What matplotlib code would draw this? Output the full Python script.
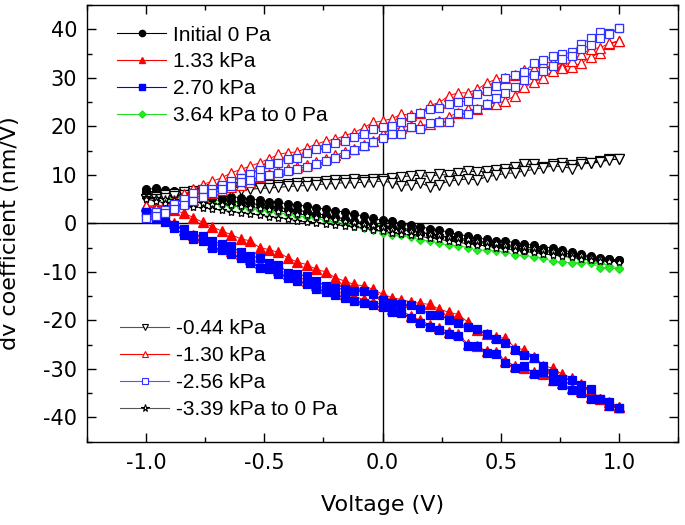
import matplotlib
matplotlib.use("Agg")
import matplotlib.pyplot as plt
from matplotlib.ticker import MultipleLocator, FormatStrFormatter
from matplotlib.lines import Line2D

# Voltage sweep grid (V)
voltage = [-1.00, -0.96, -0.92, -0.88, -0.84, -0.80, -0.76, -0.72, -0.68, -0.64,
           -0.60, -0.56, -0.52, -0.48, -0.44, -0.40, -0.36, -0.32, -0.28, -0.24,
           -0.20, -0.16, -0.12, -0.08, -0.04, 0.00, 0.04, 0.08, 0.12, 0.16,
           0.20, 0.24, 0.28, 0.32, 0.36, 0.40, 0.44, 0.48, 0.52, 0.56,
           0.60, 0.64, 0.68, 0.72, 0.76, 0.80, 0.84, 0.88, 0.92, 0.96, 1.00]

# Initial 0 Pa (two sweep branches)
circ_up = [7.0, 7.2, 6.9, 6.6, 6.5, 6.4, 6.2, 6.0, 5.8, 5.5, 5.3, 5.0, 4.8, 4.5, 4.3, 4.0, 3.8, 3.5, 3.2, 2.9, 2.6, 2.3, 1.9, 1.5, 1.0, 0.6,
           0.5, -0.2, -0.4, -0.7, -1.1, -1.4, -1.8, -2.3, -2.6, -3.0, -3.3, -3.6, -3.6, -4.0, -4.3, -4.5, -5.0, -5.0, -5.4, -6.0, -6.4, -6.7, -7.1, -7.4, -7.6]
circ_lo = [6.5, 6.6, 6.3, 6.1, 5.9, 5.7, 5.5, 5.2, 5.0, 4.7, 4.4, 4.1, 3.9, 3.6, 3.3, 3.0, 2.7, 2.4, 2.0, 1.7, 1.3, 0.9, 0.5, 0.1, -0.3, -0.7,
           -0.7, -1.1, -1.2, -1.9, -2.1, -2.6, -3.0, -3.3, -3.6, -4.0, -4.1, -4.5, -4.7, -5.0, -5.4, -5.5, -5.7, -6.0, -6.2, -6.4, -6.7, -7.1, -7.3, -7.4, -7.6]

# 1.33 kPa
redf_up = [3.5, 3.7, 3.2, 2.7, 2.1, 1.2, 0.2, -0.7, -1.6, -2.3, -3.2, -3.6, -5.0, -5.4, -6.0, -7.1, -8.0, -8.5, -9.5, -10.0, -11.2, -11.9, -12.6, -12.9, -13.6,
           -14.6, -15.3, -15.7, -16.2, -16.5, -16.7, -17.7, -18.3, -18.8, -20.3, -22.0, -22.9, -23.4, -23.7, -25.6, -26.1, -27.5, -29.4, -29.8, -31.1, -31.8, -33.2, -34.6, -36.3, -36.9, -37.8]
redf_lo = [3.5, 2.0, 1.2, 0.0, -1.4, -2.5, -2.9, -4.2, -4.7, -5.6, -6.3, -7.3, -8.2, -8.7, -9.6, -10.4, -11.0, -11.8, -12.8, -13.4, -14.0, -14.6, -15.2, -15.6, -16.2,
           -16.8, -17.7, -18.0, -19.1, -20.0, -20.9, -21.6, -22.3, -22.9, -24.8, -25.3, -26.3, -26.6, -28.3, -29.4, -29.8, -30.6, -31.0, -32.2, -33.0, -34.0, -34.6, -35.8, -36.3, -37.4, -37.8]

# 2.70 kPa
bluef_up = [2.3, 1.5, 1.0, -0.4, -1.2, -2.3, -2.6, -3.6, -4.3, -4.7, -6.0, -6.7, -7.1, -8.1, -8.5, -10.2, -10.5, -10.9, -11.9, -12.9, -13.3, -13.6, -14.0, -14.0, -14.6,
            -15.7, -16.4, -16.7, -16.9, -17.6, -18.8, -18.8, -19.9, -20.6, -21.3, -21.7, -22.9, -23.9, -24.7, -26.0, -27.2, -27.7, -29.4, -30.8, -32.0, -32.2, -33.4, -34.2, -36.2, -36.9, -38.0]
bluef_lo = [2.3, 0.8, 0.3, -1.0, -2.3, -3.3, -3.6, -5.0, -5.4, -6.4, -7.1, -8.1, -9.1, -9.5, -10.5, -11.2, -11.9, -12.6, -13.6, -14.2, -14.8, -15.3, -16.0, -16.4, -16.9,
            -17.2, -18.3, -18.4, -19.5, -20.5, -21.3, -22.0, -22.9, -23.2, -25.2, -25.3, -26.7, -27.0, -28.7, -29.8, -29.4, -31.1, -30.7, -32.5, -33.4, -34.4, -34.9, -36.2, -36.3, -37.7, -38.0]

# 3.64 kPa to 0 Pa
green_up = [6.0, 6.2, 5.9, 5.6, 5.5, 5.3, 5.1, 4.9, 4.6, 4.4, 4.2, 3.9, 3.7, 3.4, 3.1, 2.9, 2.6, 2.3, 2.0, 1.7, 1.3, 1.0, 0.6, 0.2, -0.1, -0.5,
            -0.9, -1.2, -1.5, -1.9, -2.2, -2.5, -2.9, -3.2, -3.5, -3.8, -4.1, -4.4, -4.6, -4.9, -5.2, -5.5, -5.8, -6.1, -6.5, -6.9, -7.3, -7.7, -8.2, -8.7, -9.3]
green_lo = [5.6, 5.5, 5.3, 5.0, 4.8, 4.6, 4.3, 4.1, 3.8, 3.6, 3.3, 3.0, 2.8, 2.5, 2.2, 1.9, 1.6, 1.3, 1.0, 0.6, 0.3, -0.1, -0.5, -0.9, -1.3, -1.9,
            -2.3, -2.5, -2.9, -3.4, -3.6, -4.1, -4.5, -4.6, -5.0, -5.5, -5.5, -5.7, -5.9, -6.6, -6.6, -6.9, -7.2, -7.8, -8.0, -8.1, -8.1, -8.2, -9.1, -9.1, -9.5]

# -0.44 kPa
down_up = [5.0, 5.4, 5.8, 6.1, 6.4, 6.6, 6.9, 7.0, 7.2, 7.4, 7.5, 7.6, 7.8, 7.9, 8.0, 8.2, 8.3, 8.5, 8.6, 8.8, 8.9, 9.0, 9.1, 9.0, 9.2,
           9.1, 9.4, 9.6, 9.8, 9.9, 9.6, 10.1, 9.9, 10.4, 10.8, 10.6, 10.8, 11.0, 11.3, 11.7, 12.2, 12.2, 11.7, 12.2, 12.5, 12.0, 12.6, 12.5, 12.9, 13.2, 13.2]
down_lo = [5.0, 5.1, 5.3, 5.6, 5.8, 6.0, 6.2, 6.4, 6.6, 6.8, 6.9, 7.0, 7.2, 7.3, 7.4, 7.6, 7.7, 7.8, 8.0, 8.1, 8.2, 8.4, 8.3, 8.5, 8.6,
           8.7, 8.4, 7.8, 8.0, 8.4, 7.5, 8.0, 8.7, 8.9, 9.2, 8.9, 9.6, 9.9, 10.3, 10.4, 10.8, 11.1, 11.5, 11.8, 11.7, 11.3, 12.2, 12.4, 12.6, 13.1, 13.2]

# -1.30 kPa
redo_up = [3.6, 3.3, 4.0, 4.8, 6.0, 7.0, 8.0, 8.7, 9.4, 10.4, 11.1, 11.8, 12.5, 13.3, 14.2, 14.6, 14.7, 15.6, 16.3, 17.0, 17.3, 18.1, 18.7, 19.7, 20.8,
           21.1, 21.6, 22.5, 22.3, 22.8, 24.3, 24.9, 26.3, 26.9, 26.9, 27.6, 28.9, 29.7, 30.0, 30.5, 31.6, 31.8, 33.0, 33.3, 32.4, 32.2, 33.0, 34.2, 35.2, 36.9, 37.6]
redo_lo = [3.6, 3.0, 3.3, 3.7, 4.2, 4.8, 5.5, 6.2, 6.9, 7.4, 7.9, 8.6, 9.6, 10.2, 10.7, 11.2, 11.7, 12.1, 12.6, 13.3, 14.0, 14.7, 15.4, 16.1, 17.0,
           18.4, 19.4, 19.7, 20.1, 20.2, 20.4, 21.1, 22.0, 22.8, 23.5, 23.5, 24.7, 24.7, 25.2, 26.3, 28.0, 29.1, 30.0, 31.4, 32.1, 33.5, 34.8, 35.9, 36.2, 37.1, 37.6]

# -2.56 kPa
blueo_up = [1.0, 2.3, 2.8, 4.0, 5.0, 6.2, 7.0, 7.1, 8.0, 8.7, 9.4, 10.1, 11.0, 12.2, 12.5, 13.2, 13.5, 14.6, 15.3, 15.6, 16.6, 17.0, 17.7, 18.4, 19.4,
            19.9, 20.1, 20.9, 22.0, 22.7, 23.5, 23.8, 24.5, 25.0, 25.2, 26.6, 27.3, 28.3, 30.0, 30.5, 31.2, 33.1, 33.7, 34.4, 34.8, 35.3, 36.9, 38.1, 39.5, 39.2, 40.2]
blueo_lo = [1.0, 1.6, 2.2, 3.0, 3.8, 4.6, 5.4, 6.2, 7.0, 7.8, 8.5, 9.0, 9.5, 10.0, 10.4, 10.8, 11.3, 11.7, 12.2, 12.8, 13.5, 14.3, 15.1, 15.9, 16.7,
            17.5, 18.4, 18.4, 19.9, 19.5, 20.6, 20.9, 20.8, 22.7, 22.5, 23.5, 24.7, 25.8, 26.8, 28.2, 29.6, 30.5, 31.4, 32.4, 33.8, 34.4, 36.0, 36.7, 38.1, 39.0, 40.2]

# -3.39 kPa to 0 Pa
star_up = [5.4, 5.3, 5.0, 4.8, 4.6, 4.4, 4.2, 4.0, 3.9, 3.7, 3.5, 3.3, 3.1, 2.9, 2.6, 2.3, 2.0, 1.7, 1.4, 1.1, 0.8, 0.5, 0.2, -0.1, -0.4, -0.8,
           -1.1, -1.4, -1.6, -1.9, -2.2, -2.5, -2.8, -3.0, -3.3, -3.6, -3.9, -4.1, -4.4, -4.6, -4.9, -5.1, -5.4, -5.7, -6.0, -6.3, -6.6, -6.9, -7.2, -7.5, -7.8]
star_lo = [5.0, 4.6, 4.2, 3.9, 3.6, 3.4, 3.2, 3.0, 2.7, 2.4, 2.2, 2.0, 1.7, 1.4, 1.2, 0.9, 0.5, 0.3, 0.1, -0.1, -0.3, -0.5, -0.8, -1.0, -1.3, -1.6,
           -1.9, -2.2, -2.5, -2.7, -3.0, -3.3, -3.6, -3.9, -4.2, -4.4, -4.7, -5.0, -5.2, -5.5, -5.8, -6.0, -6.3, -6.5, -6.8, -7.0, -7.3, -7.5, -7.7, -7.8, -7.9]

legend1_labels = ["Initial 0 Pa", "1.33 kPa", "2.70 kPa", "3.64 kPa to 0 Pa"]
legend2_labels = ["-0.44 kPa", "-1.30 kPa", "-2.56 kPa", "-3.39 kPa to 0 Pa"]

plt.rcParams['font.family'] = ['DejaVu Sans']
plt.rcParams['axes.unicode_minus'] = False

fig = plt.figure(figsize=(6.85, 5.25), dpi=100)
ax = fig.add_axes([87/685, 1 - 441.7/525, (678 - 87)/685, (441.7 - 5)/525])

loop_x = voltage + voltage[::-1]


def loop(up, lo):
    return up + lo[::-1]


styles = [
    # (up, lo, line color, marker, ms, mfc, mec, z)
    (green_up, green_lo, '#22dd22', 'D', 4.3, '#22ee22', '#22dd22', 2),
    (circ_up, circ_lo, 'black', 'o', 5.6, 'black', 'black', 3),
    (star_up, star_lo, 'black', '*', 6.0, 'white', 'black', 4),
    (down_up, down_lo, 'black', 'v', 6.5, 'white', 'black', 3),
    (redf_up, redf_lo, 'red', '^', 6.5, 'red', 'red', 3),
    (bluef_up, bluef_lo, 'blue', 's', 5.3, 'blue', 'blue', 4),
    (redo_up, redo_lo, 'red', '^', 7.0, 'white', 'red', 3),
    (blueo_up, blueo_lo, '#3333ff', 's', 6.0, 'white', '#3333ff', 4),
]
for up, lo, c, m, ms, mfc, mec, z in styles:
    ax.plot(loop_x, loop(up, lo), color=c, lw=0.7, marker=m, ms=ms,
            mfc=mfc, mec=mec, mew=0.9, zorder=z)

ax.axhline(0, color='black', lw=1.0, zorder=1)
ax.axvline(0, color='black', lw=1.0, zorder=1)

ax.set_xlim(-1.25, 1.25)
ax.set_ylim(-45, 45)
ax.xaxis.set_major_locator(MultipleLocator(0.5))
ax.xaxis.set_minor_locator(MultipleLocator(0.25))
ax.yaxis.set_major_locator(MultipleLocator(10))
ax.yaxis.set_minor_locator(MultipleLocator(5))
ax.tick_params(which='both', direction='in', top=True, right=True, width=1.0)
ax.tick_params(which='major', length=6.5, labelsize=15)
ax.tick_params(which='minor', length=3.5)
ax.tick_params(axis='x', which='major', pad=8)
ax.tick_params(axis='y', which='major', pad=7)
ax.xaxis.set_major_formatter(FormatStrFormatter('%.1f'))
for s in ax.spines.values():
    s.set_linewidth(1.0)

ax.set_xlabel("Voltage (V)", fontsize=16, labelpad=16)
ax.set_ylabel("dv coefficient (nm/V)", fontsize=16)
ax.yaxis.set_label_coords(-0.113, 0.478)

h1 = [
    Line2D([], [], color='black', lw=0.8, marker='o', ms=4.5, mfc='black', mec='black'),
    Line2D([], [], color='red', lw=0.8, marker='^', ms=5, mfc='red', mec='red'),
    Line2D([], [], color='blue', lw=0.8, marker='s', ms=4.3, mfc='blue', mec='blue'),
    Line2D([], [], color='#22dd22', lw=0.8, marker='D', ms=3.5, mfc='#22ee22', mec='#22dd22'),
]
h2 = [
    Line2D([], [], color='#555555', lw=0.8, marker='v', ms=5, mfc='white', mec='black', mew=0.8),
    Line2D([], [], color='red', lw=0.8, marker='^', ms=5, mfc='white', mec='red', mew=0.8),
    Line2D([], [], color='#5555ff', lw=0.8, marker='s', ms=4.3, mfc='white', mec='#3333ff', mew=0.8),
    Line2D([], [], color='#555555', lw=0.8, marker='*', ms=5.5, mfc='white', mec='black', mew=0.8),
]
legprops = dict(frameon=False, prop={'family': 'Liberation Sans', 'size': 15},
                handlelength=2.35, handletextpad=0.35, labelspacing=0.38,
                borderpad=0, borderaxespad=0, loc='upper left')
leg1 = ax.legend(h1, legend1_labels, bbox_to_anchor=(0.051, 0.953), **legprops)
ax.add_artist(leg1)
leg2 = ax.legend(h2, legend2_labels, bbox_to_anchor=(0.056, 0.28), **legprops)

fig.savefig("out.png", dpi=100)
